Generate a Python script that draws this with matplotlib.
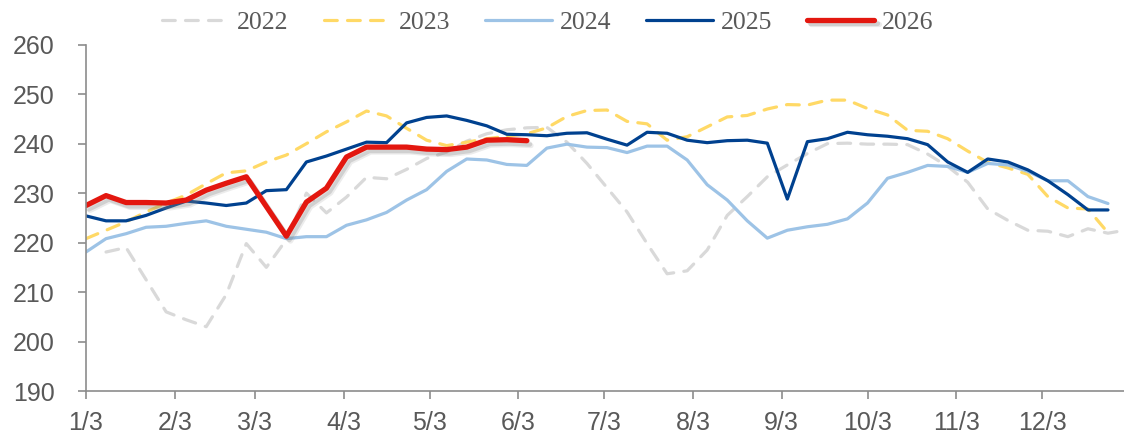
import matplotlib
matplotlib.use("Agg")
import matplotlib.pyplot as plt
import matplotlib.patheffects as pe
import numpy as np

# weekly readings, week 0 = Jan 3
vals_2022 = [np.nan, 218.1, 219.0, 212.5, 206.0, 204.4, 203.0, 209.5, 219.8, 215.0,
             220.6, 230.0, 226.0, 229.2, 233.2, 232.9, 234.8, 237.0, 238.3, 240.5,
             242.0, 242.8, 243.2, 243.3, 240.3, 236.0, 231.1, 226.2, 219.8, 213.7,
             214.3, 218.5, 225.5, 229.3, 233.3, 235.7, 238.0, 240.0, 240.1, 239.9,
             239.9, 239.8, 237.9, 235.4, 232.2, 226.8, 224.5, 222.5, 222.3, 221.2,
             222.8, 221.9, 222.6]
vals_2023 = [220.8, 222.5, 224.2, 226.2, 228.0, 229.6, 231.9, 234.1, 234.5, 236.3,
             237.7, 240.0, 242.4, 244.4, 246.6, 245.6, 243.1, 240.7, 239.6, 240.3,
             241.0, 241.5, 242.0, 243.2, 245.5, 246.7, 246.8, 244.5, 244.0, 240.7,
             241.4, 243.4, 245.4, 245.7, 247.0, 247.9, 247.8, 248.8, 248.8, 247.1,
             245.8, 242.7, 242.5, 241.0, 238.5, 236.2, 235.1, 233.8, 229.3, 227.0,
             226.8, 222.0]
vals_2024 = [218.1, 220.8, 221.8, 223.1, 223.3, 223.9, 224.4, 223.3, 222.7, 222.1,
             220.8, 221.2, 221.2, 223.5, 224.6, 226.1, 228.6, 230.7, 234.4, 236.9,
             236.7, 235.8, 235.6, 239.1, 239.9, 239.3, 239.2, 238.2, 239.5, 239.5,
             236.7, 231.7, 228.6, 224.4, 220.9, 222.5, 223.2, 223.7, 224.8, 228.0,
             233.0, 234.2, 235.6, 235.4, 234.2, 236.0, 235.7, 234.4, 232.5, 232.5,
             229.3, 227.9]
vals_2025 = [225.4, 224.4, 224.4, 225.5, 227.0, 228.4, 228.0, 227.5, 228.0, 230.5,
             230.7, 236.3, 237.5, 238.9, 240.3, 240.2, 244.2, 245.3, 245.6, 244.7,
             243.6, 241.9, 241.8, 241.6, 242.1, 242.2, 240.9, 239.7, 242.3, 242.1,
             240.7, 240.2, 240.6, 240.7, 240.1, 228.8, 240.4, 241.0, 242.3, 241.8,
             241.5, 241.0, 239.8, 236.3, 234.2, 236.9, 236.3, 234.7, 232.5, 229.7,
             226.6, 226.6]
vals_2026 = [227.5, 229.5, 228.1, 228.1, 228.0, 228.6, 230.6, 232.0, 233.3, 227.3,
             221.3, 228.2, 231.0, 237.3, 239.3, 239.3, 239.3, 238.9, 238.8, 239.3,
             240.7, 240.8, 240.6]

tick_days = [3, 34, 62, 93, 123, 154, 184, 215, 246, 276, 307, 337]
tick_labels = ["1/3", "2/3", "3/3", "4/3", "5/3", "6/3", "7/3", "8/3", "9/3",
               "10/3", "11/3", "12/3"]

TICK_GREY = "#595959"
AXIS_GREY = "#8c8c8c"

fig = plt.figure(figsize=(11.24, 4.34), dpi=100)
ax = fig.add_axes([0.0765, 0.099, 0.9235, 0.798])

dash = (4.0, 3.2)
ax.plot(np.arange(len(vals_2022)), vals_2022, color="#d9d9d9", lw=2.3,
        dashes=dash, dash_capstyle="round", label="2022")
ax.plot(np.arange(len(vals_2023)), vals_2023, color="#ffd966", lw=2.3,
        dashes=dash, dash_capstyle="round", label="2023")
ax.plot(np.arange(len(vals_2024)), vals_2024, color="#9dc3e6", lw=2.3,
        solid_capstyle="round", label="2024")
ax.plot(np.arange(len(vals_2025)), vals_2025, color="#00418f", lw=2.3,
        solid_capstyle="round", label="2025")
ax.plot(np.arange(len(vals_2026)), vals_2026, color="#e3170f", lw=3.8,
        solid_capstyle="round", label="2026",
        path_effects=[pe.SimpleLineShadow(offset=(3.0, -3.5), shadow_color="#808080", alpha=0.15),
                      pe.SimpleLineShadow(offset=(2.0, -2.5), shadow_color="#808080", alpha=0.25),
                      pe.Normal()])

ax.set_xlim(0, 51.8)
ax.set_ylim(190, 260)
ax.set_yticks(np.arange(190, 261, 10))
ax.set_xticks([(d - 3) / 7 for d in tick_days])
ax.set_xticklabels(tick_labels)

for side in ("top", "right"):
    ax.spines[side].set_visible(False)
for side in ("left", "bottom"):
    ax.spines[side].set_color(AXIS_GREY)
    ax.spines[side].set_linewidth(1.2)

ax.tick_params(axis="both", colors=AXIS_GREY, labelcolor=TICK_GREY, length=5.5,
               width=1.2, labelsize=18)
ax.tick_params(axis="y", pad=17)
ax.tick_params(axis="x", pad=9)
for lab in ax.get_xticklabels() + ax.get_yticklabels():
    lab.set_fontfamily("Liberation Sans")

fig.legend(loc="center", bbox_to_anchor=(0.4875, 0.949), ncol=5, frameon=False,
           handlelength=2.62, handletextpad=0.3, columnspacing=1.35,
           prop={"family": "Liberation Serif", "size": 18.5}, labelcolor=TICK_GREY)

fig.savefig("out.png", dpi=100)
